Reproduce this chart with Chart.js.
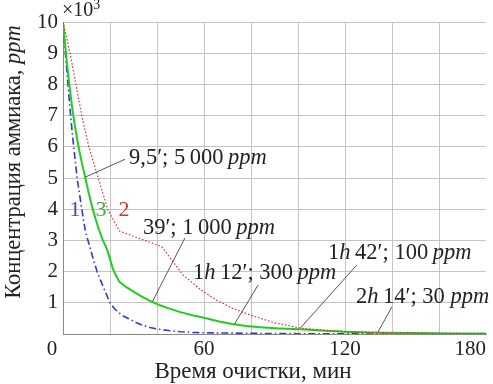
<!DOCTYPE html>
<html><head><meta charset="utf-8">
<script src="https://cdn.jsdelivr.net/npm/chart.js@4.4.1/dist/chart.umd.min.js"></script>
<style>html,body{margin:0;padding:0;background:#fff}#wrap{width:493px;height:384px;position:relative}</style>
</head><body><div id="wrap"><canvas id="c"></canvas></div>
<script>
// ---- data (concentration in thousands of ppm, time in minutes) ----
const timeBlue  = [0, 1, 2, 3, 4, 5, 6, 7, 8, 9.5, 11, 12.5, 14.5, 16, 18, 20, 22, 24, 26, 28.5, 31, 34, 37, 41, 45, 50, 55, 60, 70, 80, 100, 180];
const valueBlue = [10, 9.0, 8.1, 7.2, 6.4, 5.7, 5.0, 4.5, 4.0, 3.3, 2.9, 2.5, 2.0, 1.72, 1.35, 1.0, 0.8, 0.67, 0.56, 0.47, 0.37, 0.28, 0.21, 0.15, 0.11, 0.07, 0.05, 0.04, 0.03, 0.02, 0.01, 0];
const timeGreen  = [0, 1, 2, 3, 4, 5, 6, 7, 8, 9.5, 11, 12.5, 14, 15.5, 17, 18.7, 20, 21.3, 22.5, 24, 27, 30, 33, 37, 41, 45, 50, 55, 60, 66, 72, 78, 84, 92, 101, 110, 120, 134, 150, 165, 180];
const valueGreen = [10, 9.2, 8.45, 7.8, 7.2, 6.7, 6.25, 5.85, 5.5, 5.0, 4.5, 4.05, 3.65, 3.3, 3.0, 2.72, 2.4, 2.08, 1.88, 1.67, 1.5, 1.36, 1.22, 1.06, 0.93, 0.82, 0.7, 0.6, 0.52, 0.41, 0.32, 0.26, 0.22, 0.18, 0.15, 0.11, 0.07, 0.04, 0.03, 0.02, 0.02];
const timeRed  = [0, 3, 5.5, 8, 11, 15, 19, 24, 33, 42, 46, 51, 58, 65, 72, 80, 90, 101, 112, 122, 134, 150, 180];
const valueRed = [10, 9.0, 8.0, 7.0, 6.0, 5.0, 4.0, 3.3, 3.05, 2.8, 2.4, 1.9, 1.45, 1.1, 0.83, 0.6, 0.36, 0.19, 0.11, 0.07, 0.05, 0.03, 0.01];
const curveNames = ['1', '3', '2'];
const xTickLabels = ['60', '120', '180'];
const yTickLabels = ['1','2','3','4','5','6','7','8','9','10'];
// annotations: point on curve (t, v), leader end (t, v), text left-centre (t, v)
const annPointT = [9.5, 38, 73, 101, 134];
const annPointV = [5.03, 1.03, 0.32, 0.19, 0.06];
const annLeadT  = [26.4, 51.9, 83, 125, 140];
const annLeadV  = [5.6, 3.08, 1.57, 2.21, 0.87];
const annTextT  = [28.1, 34, 55.3, 112.8, 124.7];
const annTextV  = [5.63, 3.4, 1.95, 2.6, 1.19];
const annTexts = [
  [['9,5′; 5\u2009000\u2009', 0], ['ppm', 1]],
  [['39′; 1\u2009000\u2009', 0], ['ppm', 1]],
  [['1', 0], ['h', 1], ['\u200912′; 300\u2009', 0], ['ppm', 1]],
  [['1', 0], ['h', 1], ['\u200942′; 100\u2009', 0], ['ppm', 1]],
  [['2', 0], ['h', 1], ['\u200914′; 30 ', 0], ['ppm', 1]]
];
const curveLabelT = [5.1, 16.2, 26];
const curveLabelV = [3.97, 3.97, 3.97];

const FONT = "'Liberation Serif', serif";
const pts = (t, v) => t.map((x, i) => ({x: x, y: v[i]}));

function drawSegs(ctx, segs, x, y, size) {
  let cx = x;
  for (const [txt, it] of segs) {
    ctx.font = (it ? 'italic ' : '') + size + 'px ' + FONT;
    ctx.fillText(txt, cx, y);
    cx += ctx.measureText(txt).width;
  }
}

const overlay = {
  id: 'overlay',
  afterDatasetsDraw(chart) {
    const ctx = chart.ctx, xs = chart.scales.x, ys = chart.scales.y;
    ctx.save();
    ctx.strokeStyle = '#555';
    ctx.lineWidth = 1;
    for (let i = 0; i < annPointT.length; i++) {
      ctx.beginPath();
      ctx.moveTo(xs.getPixelForValue(annPointT[i]), ys.getPixelForValue(annPointV[i]));
      ctx.lineTo(xs.getPixelForValue(annLeadT[i]), ys.getPixelForValue(annLeadV[i]));
      ctx.stroke();
    }
    ctx.fillStyle = '#222';
    ctx.textBaseline = 'middle';
    ctx.textAlign = 'left';
    for (let i = 0; i < annTexts.length; i++) {
      drawSegs(ctx, annTexts[i], xs.getPixelForValue(annTextT[i]), ys.getPixelForValue(annTextV[i]), 22.5);
    }
    const cols = ['#3a4bc4', '#3cb43c', '#d83030'];
    ctx.textAlign = 'center';
    ctx.font = '22px ' + FONT;
    for (let i = 0; i < curveNames.length; i++) {
      ctx.fillStyle = cols[i];
      ctx.fillText(curveNames[i], xs.getPixelForValue(curveLabelT[i]), ys.getPixelForValue(curveLabelV[i]));
    }
    ctx.fillStyle = '#222';
    ctx.textAlign = 'left';
    ctx.textBaseline = 'alphabetic';
    ctx.font = '20px ' + FONT;
    ctx.fillText('×10', xs.left - 1, 16);
    const w = ctx.measureText('×10').width;
    ctx.font = '14px ' + FONT;
    ctx.fillText('3', xs.left - 1 + w, 9);
    ctx.font = '21px ' + FONT;
    ctx.textAlign = 'center';
    ctx.textBaseline = 'middle';
    ctx.fillText('0', xs.left - 11, ys.bottom + 15);
    ctx.font = '23px ' + FONT;
    ctx.fillText('Время очистки, мин', 253, 372);
    ctx.translate(14, 162);
    ctx.rotate(-Math.PI / 2);
    const parts = [['Концентрация аммиака, ', 0], ['ppm', 1]];
    let tot = 0;
    for (const [t, it] of parts) { ctx.font = (it ? 'italic ' : '') + '22.5px ' + FONT; tot += ctx.measureText(t).width; }
    ctx.textAlign = 'left';
    drawSegs(ctx, parts, -tot / 2, 0, 22.5);
    ctx.restore();
  }
};

new Chart(document.getElementById('c'), {
  type: 'line',
  data: {
    datasets: [
      {label: '2', data: pts(timeRed, valueRed), borderColor: '#e02a2a', borderWidth: 1.2, borderDash: [1.5, 2], pointRadius: 0, tension: 0, fill: false},
      {label: '3', data: pts(timeGreen, valueGreen), borderColor: '#22cc22', borderWidth: 2, pointRadius: 0, tension: 0, fill: false},
      {label: '1', data: pts(timeBlue, valueBlue), borderColor: '#2b3fc8', borderWidth: 1.6, borderDash: [7, 3, 1.5, 3], pointRadius: 0, tension: 0, fill: false}
    ]
  },
  options: {
    responsive: true, maintainAspectRatio: false, animation: false,
    layout: {padding: {top: 22, right: 7, left: 0, bottom: 0}},
    plugins: {legend: {display: false}, tooltip: {enabled: false}},
    scales: {
      x: {
        type: 'linear', min: 0, max: 180,
        afterFit: s => { s.height = 50; s.paddingRight = 0; s.paddingLeft = 0; },
        ticks: {stepSize: 20, autoSkip: false, maxRotation: 0, padding: 3, color: '#222', align: 'inner',
          font: {family: FONT, size: 21},
          callback: v => (v % 60 === 0 && v > 0) ? xTickLabels[v / 60 - 1] : ''},
        grid: {drawTicks: false, color: c => (c.tick && (c.tick.value === 0 || c.tick.value === 180)) ? 'rgba(0,0,0,0)' : '#c4c4c4'},
        border: {display: true, color: '#888', width: 1}
      },
      y: {
        type: 'linear', min: 0, max: 10,
        afterFit: s => { s.width = 63; s.paddingTop = 0; s.paddingBottom = 0; },
        ticks: {stepSize: 1, padding: 5, color: '#222', font: {family: FONT, size: 21},
          callback: v => v > 0 ? yTickLabels[v - 1] : ''},
        grid: {drawTicks: false, color: c => (c.tick && c.tick.value === 0) ? 'rgba(0,0,0,0)' : '#c4c4c4'},
        border: {display: true, color: '#888', width: 1}
      }
    }
  },
  plugins: [overlay]
});
</script>
</body></html>
